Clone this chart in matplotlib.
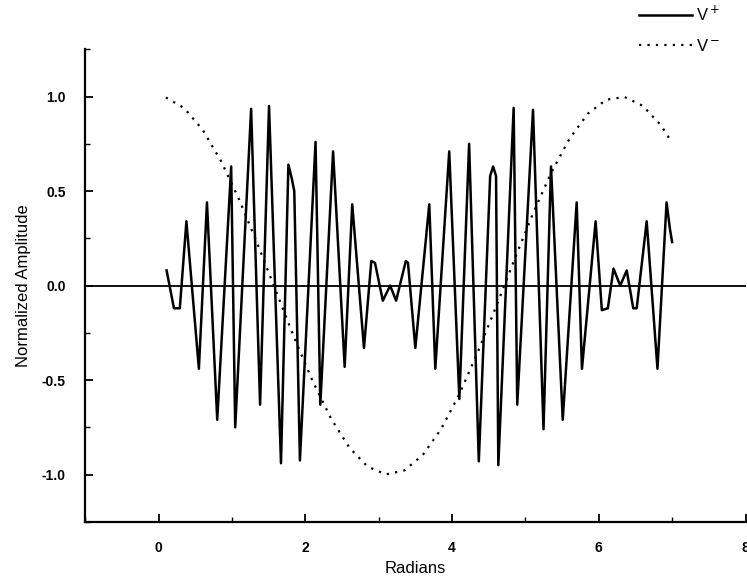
import numpy as np
import matplotlib
matplotlib.use("Agg")
import matplotlib.pyplot as plt
from matplotlib.ticker import MultipleLocator

plt.rcParams['font.family'] = ['Liberation Sans', 'DejaVu Sans']

# V+ : sampled response (peaks, troughs and shoulders)
x_plus = [0.11, 0.21, 0.29, 0.38, 0.55, 0.66, 0.80, 0.99, 1.045, 1.262,
          1.384, 1.506, 1.669, 1.77, 1.814, 1.85, 1.927, 2.14, 2.205, 2.379,
          2.537, 2.64, 2.80, 2.90, 2.95, 3.057, 3.157, 3.238, 3.37, 3.40,
          3.50, 3.69, 3.772, 3.962, 4.10, 4.233, 4.365, 4.52, 4.56, 4.60,
          4.631, 4.84, 4.889, 5.104, 5.247, 5.349, 5.509, 5.699, 5.771, 5.957,
          6.042, 6.124, 6.201, 6.292, 6.381, 6.47, 6.517, 6.653, 6.80, 6.924,
          6.97, 7.00]
v_plus = [0.08, -0.12, -0.12, 0.34, -0.44, 0.44, -0.71, 0.63, -0.75, 0.935,
          -0.63, 0.95, -0.94, 0.64, 0.57, 0.50, -0.925, 0.76, -0.63, 0.71,
          -0.43, 0.43, -0.33, 0.13, 0.12, -0.08, 0.0, -0.08, 0.13, 0.12,
          -0.33, 0.43, -0.44, 0.71, -0.60, 0.75, -0.93, 0.58, 0.63, 0.58,
          -0.95, 0.94, -0.63, 0.93, -0.76, 0.63, -0.71, 0.44, -0.44, 0.34,
          -0.13, -0.12, 0.09, 0.0, 0.08, -0.12, -0.12, 0.34, -0.44, 0.44,
          0.30, 0.23]

# V- : slow reference wave
x_minus = [0.10, 0.35, 0.60, 0.85, 1.10, 1.35, 1.60, 1.85, 2.10, 2.35,
           2.60, 2.85, 3.10, 3.35, 3.60, 3.85, 4.10, 4.35, 4.60, 4.85,
           5.10, 5.35, 5.60, 5.85, 6.10, 6.35, 6.60, 6.85, 6.98]
v_minus = [0.995, 0.939, 0.825, 0.660, 0.454, 0.219, -0.029, -0.276, -0.505, -0.703,
           -0.857, -0.958, -0.999, -0.978, -0.897, -0.760, -0.575, -0.353, -0.112, 0.137,
           0.378, 0.596, 0.776, 0.909, 0.983, 0.998, 0.951, 0.847, 0.767]

fig = plt.figure(figsize=(7.47, 5.87), dpi=100)
ax = fig.add_axes([0.114, 0.111, 0.884, 0.805])

ax.axhline(0, color='black', lw=1.3)
l1, = ax.plot(x_plus, v_plus, color='black', lw=1.8, label='V$^+$')
l2, = ax.plot(x_minus, v_minus, color='black', lw=1.6,
              linestyle=(0, (1, 2.8)), label='V$^-$')

ax.set_xlim(-1, 8)
ax.set_ylim(-1.25, 1.25)
ax.xaxis.set_major_locator(MultipleLocator(2))
ax.xaxis.set_minor_locator(MultipleLocator(1))
ax.yaxis.set_major_locator(MultipleLocator(0.5))
ax.yaxis.set_minor_locator(MultipleLocator(0.25))
ax.yaxis.set_major_formatter(plt.FuncFormatter(lambda v, p: f'{v:.1f}'))

for s in ['top', 'right']:
    ax.spines[s].set_visible(False)
for s in ['left', 'bottom']:
    ax.spines[s].set_linewidth(1.6)

ax.tick_params(which='major', direction='in', length=6, width=1.3, pad=14,
               labelsize=10)
ax.tick_params(which='minor', direction='in', length=3.5, width=1.0)
for lab in ax.get_xticklabels() + ax.get_yticklabels():
    lab.set_fontweight('bold')

ax.set_xlabel('Radians', fontsize=12, labelpad=4)
ax.set_ylabel('Normalized Amplitude', fontsize=12, labelpad=8)

fig.legend(handles=[l1, l2], loc='upper right', bbox_to_anchor=(0.98, 1.012),
           frameon=False, fontsize=12, handlelength=3.2, handletextpad=0.25,
           labelspacing=0.85, borderaxespad=0.3)

fig.savefig('out.png', dpi=100)
